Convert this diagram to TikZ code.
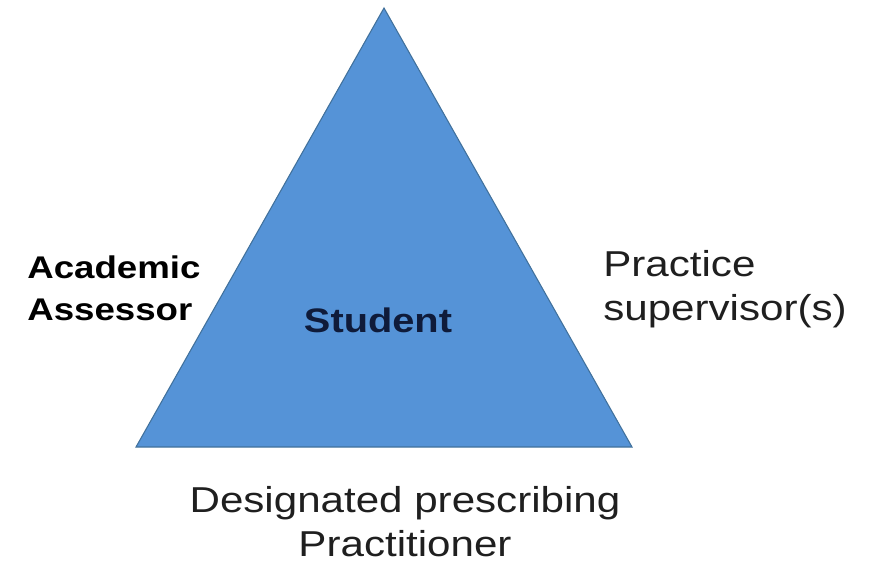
\documentclass[tikz,border=0pt]{standalone}
\usepackage{fontspec}
\newfontfamily\labelfont[FakeStretch=1.17]{Liberation Sans}
\definecolor{triblue}{HTML}{5593D7}
\definecolor{triedge}{HTML}{41719C}
\definecolor{navytext}{HTML}{0F1B3A}
\tikzset{every picture/.style={line width=0.5pt}}
\tikzset{
  boldlbl/.style={inner sep=0pt,font=\labelfont\bfseries\fontsize{23.5}{28}\selectfont},
  plainlbl/.style={inner sep=0pt,text=black!88,font=\labelfont\fontsize{27}{32}\selectfont}
}

\begin{document}
\begin{tikzpicture}[x=0.75pt,y=-0.75pt]
\useasboundingbox (0,0) rectangle (876,569);
\coordinate (apex) at (384,8);
\coordinate (baseL) at (136,447);
\coordinate (baseR) at (632,447);
\filldraw[fill=triblue,draw=triedge,line width=0.8pt,line join=miter] (apex) -- (baseR) -- (baseL) -- cycle;
\node[boldlbl,anchor=base,text=navytext,font=\labelfont\bfseries\fontsize{25.5}{30}\selectfont] (student) at (378,332) {Student};
\node[boldlbl,anchor=base west] (acadA) at (27,278) {Academic};
\node[boldlbl,anchor=base west] (acadB) at (27,320) {Assessor};
\node[plainlbl,anchor=base west] (pracA) at (603,276) {Practice};
\node[plainlbl,anchor=base west] (pracB) at (603,320) {supervisor(s)};
\node[plainlbl,anchor=base] (dppA) at (405,512) {Designated prescribing};
\node[plainlbl,anchor=base] (dppB) at (405,556) {Practitioner};
\end{tikzpicture}
\end{document}
